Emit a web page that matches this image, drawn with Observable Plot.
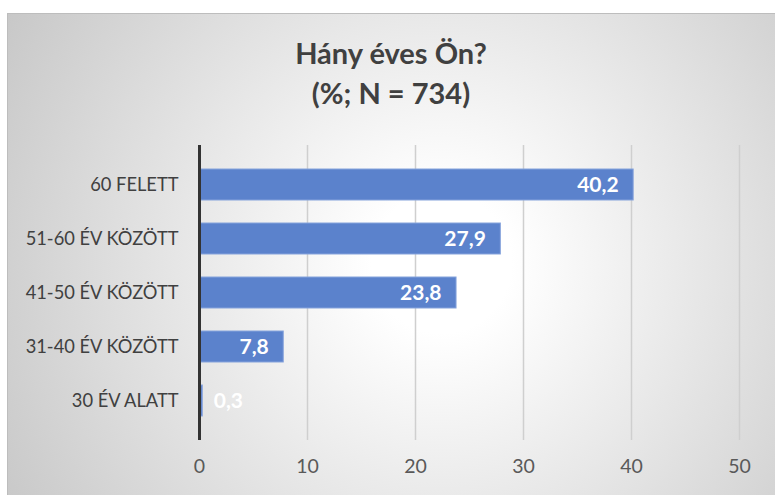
<!DOCTYPE html>
<html><head><meta charset="utf-8">
<script src="https://cdn.jsdelivr.net/npm/d3@7"></script>
<script src="https://cdn.jsdelivr.net/npm/@observablehq/plot@0.6"></script>
<style>
body{margin:0;width:775px;height:495px;overflow:hidden;background:#fff;font-family:Lato,"Open Sans",sans-serif;position:relative}
#frame{position:absolute;left:7px;top:13px;width:790px;height:500px;border:1px solid #bdbdbd;box-sizing:border-box;
 background:radial-gradient(circle farthest-corner at 55% 50%, #ffffff 0%, #ffffff 14%, #c8c8c8 100%);}
#title{position:absolute;left:7px;top:13px;width:768px;text-align:center;color:#404040;font-weight:bold;font-size:29px;line-height:40px;padding-top:20px}
#chart{position:absolute;left:0;top:0}
</style></head>
<body>
<div id="frame"></div>
<div id="title"><div>Hány éves Ön?</div><div>(%; N = 734)</div></div>
<div id="chart"></div>
<script>
const categories = ["60 FELETT", "51-60 ÉV KÖZÖTT", "41-50 ÉV KÖZÖTT", "31-40 ÉV KÖZÖTT", "30 ÉV ALATT"];
const values = [40.2, 27.9, 23.8, 7.8, 0.3];
const xTicks = [0, 10, 20, 30, 40, 50];

const data = categories.map((c, i) => ({cat: c, value: values[i], label: String(values[i]).replace(".", ",")}));

const plot = Plot.plot({
  width: 775,
  height: 495,
  marginTop: 145,
  marginBottom: 55,
  marginLeft: 199,
  marginRight: 36,
  style: {background: "transparent", fontFamily: "Lato, 'Open Sans', sans-serif"},
  x: {domain: [0, 50], ticks: xTicks, label: null},
  y: {domain: categories, padding: 0.42, label: null},
  marks: [
    Plot.gridX(xTicks.filter(d => d > 0), {stroke: "#cfcfcf", strokeOpacity: 1, strokeWidth: 1.5}),
    Plot.barX(data, {x: "value", y: "cat", fill: "#5b82cc", stroke: "#86a3dc", strokeWidth: 1}),
    Plot.ruleX([0], {stroke: "#333333", strokeWidth: 3}),
    Plot.text(data.filter(d => d.value >= 3), {x: "value", y: "cat", text: "label", textAnchor: "end", dx: -15, fill: "white", fontWeight: "bold", fontSize: 21}),
    Plot.text(data.filter(d => d.value < 3), {x: "value", y: "cat", text: "label", textAnchor: "start", dx: 11, fill: "white", fontWeight: "bold", fontSize: 21}),
    Plot.axisY({tickSize: 0, tickPadding: 21, fontSize: 18.3, fill: "#404040", label: null}),
    Plot.axisX({ticks: xTicks, tickSize: 0, tickPadding: 19, fontSize: 19.5, fill: "#595959", label: null})
  ]
});
document.getElementById("chart").appendChild(plot);
</script>
</body></html>
